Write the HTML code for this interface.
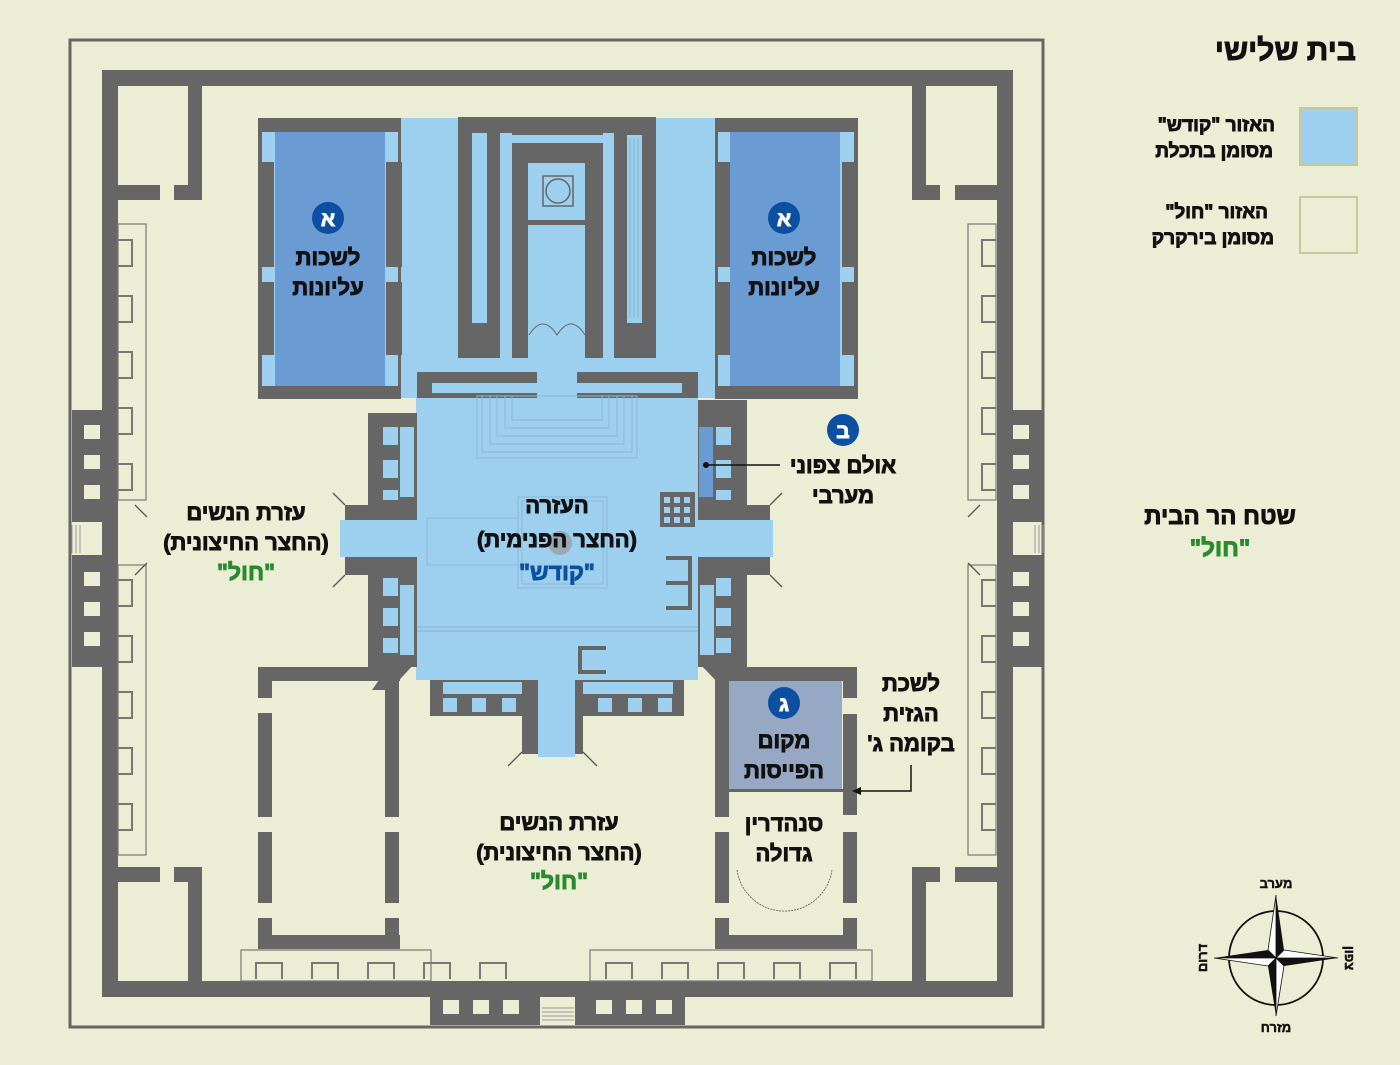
<!DOCTYPE html>
<html><head><meta charset="utf-8">
<style>
html,body{margin:0;padding:0;background:#ebedd5;}
svg{display:block;}
text{font-family:"Liberation Sans","DejaVu Sans",sans-serif;font-weight:bold;}
.b{stroke-width:0.9px;paint-order:stroke;}
</style></head>
<body>
<svg width="1400" height="1065" viewBox="0 0 1400 1065" xmlns="http://www.w3.org/2000/svg">
<rect width="1400" height="1065" fill="#ebedd5"/>
<g fill="#666666">
<rect x="70" y="40" width="973" height="987" fill="none" stroke="#666" stroke-width="3"/>
<rect x="102" y="70" width="910" height="16"/>
<rect x="102" y="981" width="910" height="16"/>
<rect x="102" y="70" width="16" height="927"/>
<rect x="997" y="70" width="16" height="927"/>
<rect x="72" y="410" width="46" height="112"/>
<rect x="72" y="555" width="46" height="112"/>
<rect x="997" y="410" width="46" height="112"/>
<rect x="997" y="555" width="46" height="112"/>
<rect x="430" y="981" width="110" height="44"/>
<rect x="575" y="981" width="110" height="44"/>
<rect x="188" y="86" width="14" height="114"/>
<rect x="118" y="185" width="42" height="15"/><rect x="174" y="185" width="28" height="15"/>
<rect x="912" y="86" width="14" height="114"/>
<rect x="912" y="185" width="28" height="15"/><rect x="955" y="185" width="42" height="15"/>
<rect x="188" y="867" width="14" height="114"/>
<rect x="118" y="867" width="42" height="15"/><rect x="174" y="867" width="28" height="15"/>
<rect x="912" y="867" width="14" height="114"/>
<rect x="912" y="867" width="28" height="15"/><rect x="955" y="867" width="42" height="15"/>
<rect x="258" y="667" width="142" height="14"/>
<rect x="258" y="935" width="142" height="14"/>
<rect x="258" y="667" width="14" height="31"/><rect x="258" y="713" width="14" height="104"/><rect x="258" y="832" width="14" height="71"/><rect x="258" y="918" width="14" height="31"/>
<rect x="385" y="667" width="14" height="150"/><rect x="385" y="832" width="14" height="71"/><rect x="385" y="918" width="14" height="31"/>
<rect x="715" y="667" width="142" height="14"/>
<rect x="715" y="935" width="142" height="14"/>
<rect x="715" y="667" width="14" height="150"/><rect x="715" y="832" width="14" height="71"/><rect x="715" y="918" width="14" height="31"/>
<rect x="843" y="667" width="14" height="31"/><rect x="843" y="714" width="14" height="101"/><rect x="843" y="832" width="14" height="71"/><rect x="843" y="918" width="14" height="31"/>
<polygon points="400,650 416,662 390,690 372,690"/>
<polygon points="715,650 698,662 725,690 742,690"/>
</g>
<g fill="none" stroke="#777" stroke-width="1.2">
<rect x="118" y="224" width="28" height="276"/>
<rect x="118" y="565" width="28" height="290"/>
<rect x="968" y="224" width="28" height="276"/>
<rect x="968" y="565" width="28" height="290"/>
<rect x="241" y="950" width="190" height="31"/>
<rect x="590" y="950" width="282" height="31"/>
</g>
<g fill="none" stroke="#777" stroke-width="2">
<path d="M118 240h14v26h-14M118 296h14v26h-14M118 352h14v26h-14M118 408h14v26h-14M118 464h14v26h-14"/>
<path d="M118 580h14v26h-14M118 636h14v26h-14M118 692h14v26h-14M118 748h14v26h-14M118 804h14v26h-14"/>
<path d="M996 240h-14v26h14M996 296h-14v26h14M996 352h-14v26h14M996 408h-14v26h14M996 464h-14v26h14"/>
<path d="M996 580h-14v26h14M996 636h-14v26h14M996 692h-14v26h14M996 748h-14v26h14M996 804h-14v26h14"/>
<path d="M256 979v-16h26v16M312 979v-16h26v16M368 979v-16h26v16M424 979v-16h26v16M480 979v-16h26v16"/>
<path d="M606 979v-16h26v16M662 979v-16h26v16M718 979v-16h26v16M774 979v-16h26v16M830 979v-16h26v16"/>
</g>
<g fill="#ebedd5">
<rect x="84" y="425" width="16" height="14"/><rect x="84" y="455" width="16" height="14"/><rect x="84" y="485" width="16" height="14"/>
<rect x="84" y="572" width="16" height="14"/><rect x="84" y="602" width="16" height="14"/><rect x="84" y="632" width="16" height="14"/>
<rect x="1013" y="425" width="16" height="14"/><rect x="1013" y="455" width="16" height="14"/><rect x="1013" y="485" width="16" height="14"/>
<rect x="1013" y="572" width="16" height="14"/><rect x="1013" y="602" width="16" height="14"/><rect x="1013" y="632" width="16" height="14"/>
<rect x="443" y="1000" width="16" height="14"/><rect x="473" y="1000" width="16" height="14"/><rect x="503" y="1000" width="16" height="14"/>
<rect x="596" y="1000" width="16" height="14"/><rect x="626" y="1000" width="16" height="14"/><rect x="656" y="1000" width="16" height="14"/>
</g>
<g stroke="#999" stroke-width="1"><path d="M72 525v28M76 525v28M80 525v28M1035 525v28M1039 525v28M1043 525v28M542 1008h32M542 1012h32M542 1016h32M542 1020h32"/></g>

<rect x="400" y="118" width="315" height="280" fill="#9dd0ef"/>
<rect x="416" y="398" width="282" height="282" fill="#9dd0ef"/>
<g>
<rect x="258" y="118" width="143" height="281" fill="#666"/>
<rect x="262" y="132" width="136" height="254" fill="#9dd0ef"/>
<rect x="258" y="162" width="16" height="105" fill="#666"/><rect x="258" y="282" width="16" height="73" fill="#666"/>
<rect x="386" y="162" width="16" height="105" fill="#666"/><rect x="386" y="282" width="16" height="73" fill="#666"/>
<rect x="275" y="132" width="110" height="254" fill="#6b9bd3"/>
<rect x="715" y="118" width="143" height="281" fill="#666"/>
<rect x="718" y="132" width="136" height="254" fill="#9dd0ef"/>
<rect x="715" y="162" width="16" height="105" fill="#666"/><rect x="715" y="282" width="16" height="73" fill="#666"/>
<rect x="842" y="162" width="16" height="105" fill="#666"/><rect x="842" y="282" width="16" height="73" fill="#666"/>
<rect x="730" y="132" width="110" height="254" fill="#6b9bd3"/>
</g>
<g>
<rect x="458" y="117" width="198" height="241" fill="#666"/>
<rect x="472" y="133" width="15" height="190" fill="#9dd0ef"/>
<rect x="500" y="133" width="12" height="225" fill="#9dd0ef"/>
<rect x="603" y="133" width="11" height="225" fill="#9dd0ef"/>
<rect x="627" y="135" width="15" height="188" fill="#9dd0ef"/>
<rect x="510" y="135" width="95" height="8" fill="#9dd0ef"/>
<rect x="528" y="163" width="57" height="195" fill="#9dd0ef"/>
<rect x="528" y="220" width="57" height="5" fill="#666"/>
<rect x="543" y="176" width="30" height="30" fill="none" stroke="#666" stroke-width="1.5"/>
<circle cx="558" cy="191" r="12" fill="none" stroke="#666" stroke-width="1.5"/>
<path d="M529 335 q14 -22 28 0 q14 -22 28 0" fill="none" stroke="#666" stroke-width="1"/>
<rect x="538" y="358" width="38" height="40" fill="#9dd0ef"/>
<path d="M630 138v180M634 138v180M638 138v180" stroke="#7ab" stroke-width="0.7"/>
<rect x="417" y="372" width="120" height="26" fill="#666"/>
<rect x="577" y="372" width="121" height="26" fill="#666"/>
<rect x="432" y="383" width="105" height="10" fill="#9dd0ef"/>
<rect x="577" y="383" width="105" height="10" fill="#9dd0ef"/>
</g>
<g fill="none" stroke="#8cb9d6" stroke-width="1">
<rect x="477" y="396" width="160" height="62"/><rect x="482" y="396" width="150" height="56"/><rect x="490" y="396" width="134" height="48"/><rect x="497" y="396" width="120" height="40"/><rect x="505" y="396" width="104" height="32"/><rect x="512" y="396" width="90" height="24"/>
<rect x="518" y="497" width="89" height="91"/><rect x="522" y="501" width="81" height="83"/>
<rect x="427" y="518" width="91" height="47"/>
<path d="M416 627h282M416 631h282" stroke="#88aec8"/>
</g>
<circle cx="560" cy="543" r="12" fill="#9aa9b5"/>
<g>
<rect x="368" y="413" width="49" height="254" fill="#666"/>
<rect x="340" y="520" width="77" height="37" fill="#9dd0ef"/>
<rect x="345" y="505" width="24" height="15" fill="#666"/><rect x="345" y="557" width="24" height="18" fill="#666"/>
<rect x="698" y="400" width="49" height="267" fill="#666"/>
<rect x="698" y="520" width="75" height="37" fill="#9dd0ef"/>
<rect x="745" y="505" width="25" height="15" fill="#666"/><rect x="745" y="557" width="25" height="18" fill="#666"/>
<rect x="699" y="427" width="14" height="70" fill="#6b9bd3"/>
<g fill="#9dd0ef">
<rect x="383" y="427" width="15" height="18"/><rect x="400" y="427" width="14" height="70"/><rect x="383" y="460" width="15" height="18"/><rect x="383" y="490" width="15" height="10"/>
<rect x="383" y="578" width="15" height="18"/><rect x="400" y="585" width="14" height="70"/><rect x="383" y="608" width="15" height="18"/><rect x="383" y="638" width="15" height="15"/>
<rect x="716" y="427" width="15" height="18"/><rect x="716" y="460" width="15" height="18"/><rect x="716" y="490" width="15" height="10"/>
<rect x="700" y="585" width="14" height="70"/><rect x="716" y="578" width="15" height="18"/><rect x="716" y="608" width="15" height="18"/><rect x="716" y="638" width="15" height="15"/>
</g>
<rect x="430" y="680" width="254" height="36" fill="#666"/>
<g fill="#9dd0ef">
<rect x="443" y="682" width="80" height="12"/><rect x="583" y="682" width="90" height="12"/>
<rect x="443" y="698" width="14" height="14"/><rect x="472" y="698" width="14" height="14"/><rect x="502" y="698" width="14" height="14"/>
<rect x="598" y="698" width="14" height="14"/><rect x="628" y="698" width="14" height="14"/><rect x="658" y="698" width="14" height="14"/>
</g>
<rect x="522" y="680" width="61" height="74" fill="#666"/>
<rect x="538" y="680" width="37" height="77" fill="#9dd0ef"/>
<rect x="660" y="492" width="35" height="35" fill="#666"/>
<g fill="#9dd0ef"><rect x="664" y="497" width="6" height="6"/><rect x="674" y="497" width="6" height="6"/><rect x="684" y="497" width="6" height="6"/><rect x="664" y="507" width="6" height="6"/><rect x="674" y="507" width="6" height="6"/><rect x="684" y="507" width="6" height="6"/><rect x="664" y="517" width="6" height="6"/><rect x="674" y="517" width="6" height="6"/><rect x="684" y="517" width="6" height="6"/></g>
<path d="M666 558h24v50h-24M666 583h24" fill="none" stroke="#666" stroke-width="4"/>
<path d="M606 648h-26v24h26" fill="none" stroke="#666" stroke-width="4"/>
</g>
<rect x="729" y="681" width="113" height="110" fill="#96a8c4"/>
<rect x="729" y="789" width="114" height="3" fill="#666"/>
<g stroke="#555" stroke-width="1.3">
<path d="M345 505l-12-12M345 575l-12 12M770 505l12-12M770 575l12 12M522 752l-14 14M583 752l14 14"/>
<path d="M147 517l-12-12M147 563l-12 12M968 517l12-12M968 563l12 12"/>
</g>
<path d="M737 870 a48 48 0 0 0 95 0" fill="none" stroke="#555" stroke-width="0.8" stroke-dasharray="2 1"/>

<g>
<circle cx="328" cy="218" r="16" fill="#0d4fa0"/><text x="328" y="226" font-size="21" fill="#fff" stroke="#fff" class="b" text-anchor="middle">א</text>
<circle cx="784" cy="218" r="16" fill="#0d4fa0"/><text x="784" y="226" font-size="21" fill="#fff" stroke="#fff" class="b" text-anchor="middle">א</text>
<circle cx="843" cy="430" r="16" fill="#0d4fa0"/><text x="843" y="438" font-size="21" fill="#fff" stroke="#fff" class="b" text-anchor="middle">ב</text>
<circle cx="784" cy="703" r="16" fill="#0d4fa0"/><text x="784" y="711" font-size="21" fill="#fff" stroke="#fff" class="b" text-anchor="middle">ג</text>
</g>
<g font-size="22" fill="#111" stroke="#111" class="b" text-anchor="middle" direction="rtl">
<text x="328" y="265">לשכות</text><text x="328" y="295">עליונות</text>
<text x="784" y="265">לשכות</text><text x="784" y="295">עליונות</text>
<text x="843" y="473">אולם צפוני</text><text x="843" y="503">מערבי</text>
<text x="557" y="513">העזרה</text><text x="557" y="547">(החצר הפנימית)</text>
<text x="246" y="520">עזרת הנשים</text><text x="246" y="550">(החצר החיצונית)</text>
<text x="559" y="830">עזרת הנשים</text><text x="559" y="860">(החצר החיצונית)</text>
<text x="784" y="748">מקום</text><text x="784" y="778">הפייסות</text>
<text x="784" y="831">סנהדרין</text><text x="784" y="861">גדולה</text>
<text x="911" y="691">לשכת</text><text x="911" y="721">הגזית</text><text x="911" y="751">בקומה ג'</text>
<text x="1220" y="524" font-size="24">שטח הר הבית</text>
</g>
<g font-size="23" text-anchor="middle" class="b" direction="rtl">
<text x="557" y="580" fill="#0d4fa0" stroke="#0d4fa0">"קודש"</text>
<text x="246" y="580" fill="#2a8a2e" stroke="#2a8a2e">"חול"</text>
<text x="559" y="889" fill="#2a8a2e" stroke="#2a8a2e">"חול"</text>
<text x="1220" y="556" fill="#2a8a2e" stroke="#2a8a2e" font-size="24">"חול"</text>
</g>
<circle cx="706" cy="465" r="3" fill="#111"/>
<path d="M706 465H780" stroke="#111" stroke-width="1.5"/>
<path d="M911 765v26H858" fill="none" stroke="#111" stroke-width="1.5"/>
<path d="M852 791l9-4v8z" fill="#111"/>

<text x="1356" y="60" font-size="30" text-anchor="start" direction="rtl" fill="#111" stroke="#111" class="b">בית שלישי</text>
<rect x="1300" y="108" width="57" height="57" fill="#9dd0ef" stroke="#c9c79e" stroke-width="2"/>
<rect x="1300" y="197" width="57" height="56" fill="none" stroke="#c9c79e" stroke-width="2"/>
<g font-size="19" fill="#111" stroke="#111" class="b" text-anchor="start" direction="rtl">
<text x="1275" y="131">האזור "קודש"</text><text x="1273" y="157">מסומן בתכלת</text>
<text x="1268" y="218">האזור "חול"</text><text x="1274" y="244">מסומן בירקרק</text>
</g>
<g transform="translate(1276,958)">
<circle r="47" fill="none" stroke="#111" stroke-width="1.8"/>
<polygon points="0,-63 8,-8 0,0" fill="#111"/><polygon points="0,-63 -8,-8 0,0" fill="#fff" stroke="#111" stroke-width="0.8"/>
<polygon points="0,58 -8,8 0,0" fill="#111"/><polygon points="0,58 8,8 0,0" fill="#fff" stroke="#111" stroke-width="0.8"/>
<polygon points="-62,0 -8,-8 0,0" fill="#111"/><polygon points="-62,0 -8,8 0,0" fill="#fff" stroke="#111" stroke-width="0.8"/>
<polygon points="62,0 8,8 0,0" fill="#111"/><polygon points="62,0 8,-8 0,0" fill="#fff" stroke="#111" stroke-width="0.8"/>
</g>
<g font-size="13" fill="#111" stroke="#111" class="b" text-anchor="middle" style="stroke-width:0.5px">
<text x="1276" y="888">מערב</text>
<text x="1276" y="1032">מזרח</text>
<text x="1202" y="958" transform="rotate(-90 1202 958)" dy="5">דרום</text>
<text x="1350" y="958" transform="rotate(90 1350 958)" dy="5">צפון</text>
</g>
</svg>
</body></html>
